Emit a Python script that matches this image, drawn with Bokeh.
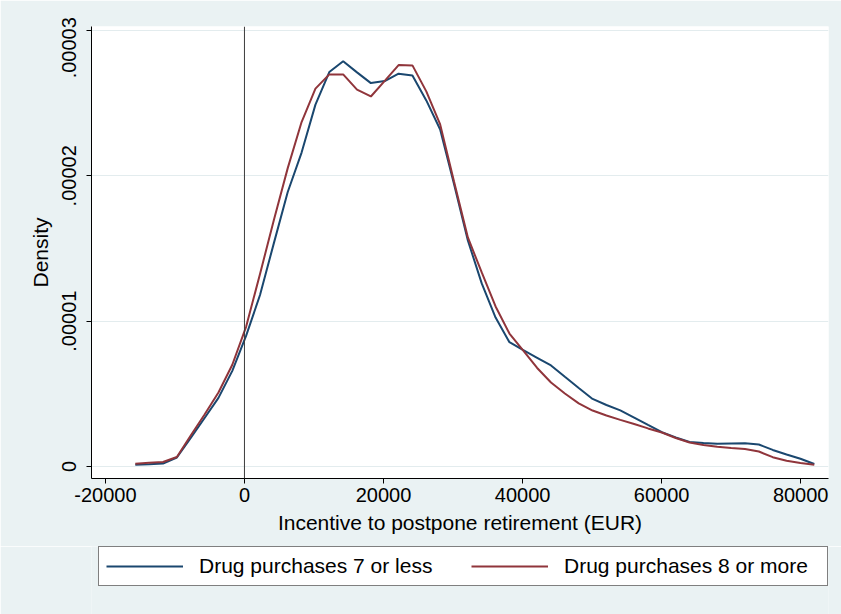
from bokeh.plotting import figure
from bokeh.layouts import column
from bokeh.models import (FixedTicker, CustomJSTickFormatter, NumeralTickFormatter,
                          Span, Legend, LegendItem, Range1d)
from bokeh.embed import file_html
from bokeh.resources import INLINE

# Evaluation grid of the kernel density estimates (EUR)
x_grid = [-15700, -13707, -11714, -9721, -7728, -5735, -3742, -1749, 244, 2237,
          4230, 6223, 8216, 10209, 12202, 14195, 16188, 18181, 20174, 22167,
          24160, 26153, 28146, 30139, 32132, 34125, 36118, 38111, 40104, 42097,
          44090, 46083, 48076, 50069, 52062, 54055, 56048, 58041, 60034, 62027,
          64020, 66013, 68006, 69999, 71992, 73985, 75978, 77971, 79964, 81957]

# Density, drug purchases 7 or less
density_low = [0.012e-5, 0.015e-5, 0.020e-5, 0.062e-5, 0.197e-5, 0.334e-5, 0.472e-5, 0.658e-5, 0.900e-5, 1.180e-5,
               1.537e-5, 1.889e-5, 2.160e-5, 2.490e-5, 2.714e-5, 2.789e-5, 2.712e-5, 2.638e-5, 2.652e-5, 2.703e-5,
               2.691e-5, 2.519e-5, 2.319e-5, 1.944e-5, 1.555e-5, 1.260e-5, 1.025e-5, 0.855e-5, 0.800e-5, 0.748e-5,
               0.695e-5, 0.617e-5, 0.540e-5, 0.465e-5, 0.423e-5, 0.386e-5, 0.337e-5, 0.286e-5, 0.236e-5, 0.200e-5,
               0.169e-5, 0.162e-5, 0.156e-5, 0.158e-5, 0.160e-5, 0.151e-5, 0.114e-5, 0.083e-5, 0.053e-5, 0.017e-5]

# Density, drug purchases 8 or more
density_high = [0.019e-5, 0.025e-5, 0.031e-5, 0.065e-5, 0.213e-5, 0.358e-5, 0.509e-5, 0.700e-5, 0.963e-5, 1.325e-5,
                1.696e-5, 2.053e-5, 2.370e-5, 2.600e-5, 2.698e-5, 2.698e-5, 2.593e-5, 2.546e-5, 2.653e-5, 2.762e-5,
                2.760e-5, 2.581e-5, 2.354e-5, 1.961e-5, 1.576e-5, 1.335e-5, 1.101e-5, 0.915e-5, 0.798e-5, 0.678e-5,
                0.578e-5, 0.502e-5, 0.434e-5, 0.385e-5, 0.351e-5, 0.321e-5, 0.292e-5, 0.262e-5, 0.234e-5, 0.196e-5,
                0.165e-5, 0.148e-5, 0.136e-5, 0.127e-5, 0.121e-5, 0.103e-5, 0.064e-5, 0.039e-5, 0.024e-5, 0.012e-5]

x_ticks = [-20000, 0, 20000, 40000, 60000, 80000]
y_ticks = [0, 0.00001, 0.00002, 0.00003]
y_tick_labels = ["0", ".00001", ".00002", ".00003"]
series_labels = ["Drug purchases 7 or less", "Drug purchases 8 or more"]
series_colors = ["#1A476F", "#90353B"]
x_title = "Incentive to postpone retirement (EUR)"
y_title = "Density"

FONT = "Liberation Sans"
BG = "#EAF2F3"

# ---------------- main plot ----------------
p = figure(width=841, height=546, output_backend="svg", toolbar_location=None,
           x_range=Range1d(-22000, 84000), y_range=Range1d(-0.0826e-5, 3.0275e-5),
           min_border_left=91, min_border_right=13, min_border_top=26, min_border_bottom=68)

p.background_fill_color = "white"
p.border_fill_color = BG
p.outline_line_color = None

# zero reference line
p.add_layout(Span(location=0, dimension="height", line_color="#3C3C3C", line_width=1))

p.line(x_grid, density_low, line_color=series_colors[0], line_width=2)
p.line(x_grid, density_high, line_color=series_colors[1], line_width=2)

p.xaxis.ticker = FixedTicker(ticks=x_ticks)
p.xaxis.formatter = NumeralTickFormatter(format="0")
p.yaxis.ticker = FixedTicker(ticks=y_ticks)
p.yaxis.formatter = CustomJSTickFormatter(
    args=dict(tvals=y_ticks, tlabels=y_tick_labels),
    code="""
    for (let i = 0; i < tvals.length; i++) {
      if (Math.abs(tick - tvals[i]) < 1e-12) {
        // the top label sits slightly below its tick so that it stays inside the image
        return i == tvals.length - 1 ? tlabels[i] + '\\u00a0\\u00a0\\u00a0' : tlabels[i];
      }
    }
    return '';
    """)
p.yaxis.major_label_orientation = "parallel"

for ax in (p.xaxis[0], p.yaxis[0]):
    ax.axis_line_color = "black"
    ax.axis_line_width = 1
    ax.major_tick_line_color = "black"
    ax.major_tick_out = 5
    ax.major_tick_in = 0
    ax.minor_tick_line_color = None
    ax.major_label_text_font = FONT
    ax.major_label_text_font_size = "20px"
    ax.major_label_text_color = "black"
    ax.axis_label_text_font = FONT
    ax.axis_label_text_font_size = "21px"
    ax.axis_label_text_font_style = "normal"
    ax.axis_label_text_color = "black"

p.xaxis.axis_label = x_title
p.yaxis.axis_label = y_title
p.xaxis.major_label_standoff = 4
p.xaxis.axis_label_standoff = 6
p.yaxis.major_label_standoff = 6
p.yaxis.axis_label_standoff = 4

p.xgrid.visible = False
p.ygrid.ticker = FixedTicker(ticks=y_ticks)
p.ygrid.grid_line_color = "#E3ECEE"
p.ygrid.grid_line_width = 1

# ---------------- legend strip (its frame is aligned with the main frame) ----------------
lg = figure(width=841, height=68, output_backend="svg", toolbar_location=None,
            x_axis_type=None, y_axis_type=None, x_range=Range1d(0, 1), y_range=Range1d(1, 2),
            min_border_left=0, min_border_right=0, min_border_top=0, min_border_bottom=0)
lg.background_fill_color = BG
lg.border_fill_color = BG
lg.outline_line_color = None
lg.grid.visible = False
# same series drawn again only as legend keys (their values fall outside this strip's ranges)
k1 = lg.line(x_grid, density_low, line_color=series_colors[0], line_width=2)
k2 = lg.line(x_grid, density_high, line_color=series_colors[1], line_width=2)

legend = Legend(
    items=[LegendItem(label=series_labels[0], renderers=[k1]),
           LegendItem(label=series_labels[1], renderers=[k2])],
    orientation="horizontal", location=(7, 28), margin=0,
    padding=7, spacing=16, glyph_width=77, glyph_height=20,
    label_standoff=16, label_width=256, label_height=20,
    border_line_color="black", border_line_width=1,
    background_fill_color="white", background_fill_alpha=1.0,
    label_text_font=FONT, label_text_font_size="21px", label_text_color="black")
lg.add_layout(legend)

page = column(p, lg, spacing=0)

open("out.html", "w").write(file_html(page, INLINE))
